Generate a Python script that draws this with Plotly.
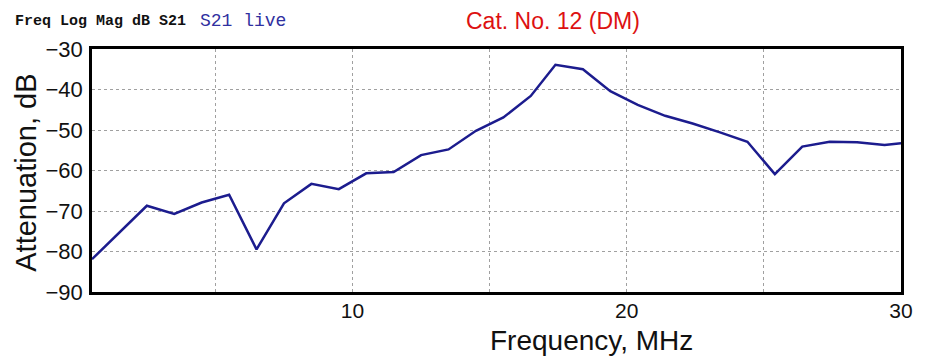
import plotly.graph_objects as go

freq_mhz = [0.5, 1.5, 2.5, 3.5, 4.5, 5.5, 6.5, 7.5, 8.5, 9.5, 10.5, 11.5, 12.5, 13.5, 14.5,
            15.5, 16.5, 17.4, 18.4, 19.4, 20.4, 21.4, 22.4, 23.4, 24.4, 25.4, 26.4, 27.4,
            28.4, 29.4, 30.0]
atten_db = [-81.9, -75.3, -68.7, -70.7, -67.9, -66.0, -79.5, -68.1, -63.3, -64.6, -60.7, -60.4,
            -56.2, -54.8, -50.2, -46.9, -41.6, -33.9, -35.0, -40.4, -43.8, -46.5, -48.4, -50.6,
            -52.9, -60.9, -54.1, -52.9, -53.0, -53.7, -53.3]

x_grid = [5, 10, 15, 20, 25, 30]
x_tick_text = ["", "10", "", "20", "", "30"]
y_ticks = [-90, -80, -70, -60, -50, -40, -30]

fig = go.Figure()
fig.add_trace(go.Scatter(x=freq_mhz, y=atten_db, mode="lines",
                         line=dict(color="#1c1c8e", width=2.5), showlegend=False))

L, R, T, B = 92, 15, 49, 64
W, H = 925, 356
pw, ph = W - L - R, H - T - B

def px_x(px):
    return (px - L) / pw

def px_y(py):
    return (H - B - py) / ph

fig.update_layout(
    width=W, height=H,
    margin=dict(l=L, r=R, t=T, b=B),
    paper_bgcolor="white", plot_bgcolor="white",
    font=dict(family="Liberation Sans, Arial, sans-serif", color="#111111"),
    xaxis=dict(range=[0.5, 30], tickvals=x_grid, ticktext=x_tick_text,
               showgrid=True, gridcolor="#a0a0a0", griddash="dot", gridwidth=1,
               showline=True, linecolor="black", linewidth=2.5, mirror=True,
               ticks="", ticklabelstandoff=-2, tickfont=dict(size=21, color="#111111"),
               zeroline=False),
    yaxis=dict(range=[-90, -30], tickvals=y_ticks,
               showgrid=True, gridcolor="#a0a0a0", griddash="dot", gridwidth=1,
               showline=True, linecolor="black", linewidth=2.5, mirror=True,
               ticks="", ticklabelstandoff=2, tickfont=dict(size=22, color="#111111"),
               zeroline=False),
    annotations=[
        dict(text="Frequency, MHz", xref="paper", yref="paper", x=px_x(597), y=px_y(340),
             xanchor="center", yanchor="middle", showarrow=False,
             font=dict(size=28, family="Liberation Sans, Arial", color="#111111")),
        dict(text="Attenuation, dB", xref="paper", yref="paper", x=px_x(25), y=px_y(173),
             xanchor="center", yanchor="middle", textangle=-90, showarrow=False,
             font=dict(size=29, family="Liberation Sans, Arial", color="#111111")),
        dict(text="<b>Freq Log Mag dB S21</b>", xref="paper", yref="paper", x=px_x(12), y=px_y(21),
             xanchor="left", yanchor="middle", showarrow=False,
             font=dict(size=15, family="Liberation Mono, DejaVu Sans Mono, monospace", color="#111111")),
        dict(text="S21 live", xref="paper", yref="paper", x=px_x(199), y=px_y(21),
             xanchor="left", yanchor="middle", showarrow=False,
             font=dict(size=18, family="Liberation Mono, DejaVu Sans Mono, monospace", color="#3030a0")),
        dict(text="Cat. No. 12 (DM)", xref="paper", yref="paper", x=px_x(558), y=px_y(21),
             xanchor="center", yanchor="middle", showarrow=False,
             font=dict(size=23, family="Liberation Sans, Arial", color="#dd1111")),
    ],
)

fig.write_html("out.html")
